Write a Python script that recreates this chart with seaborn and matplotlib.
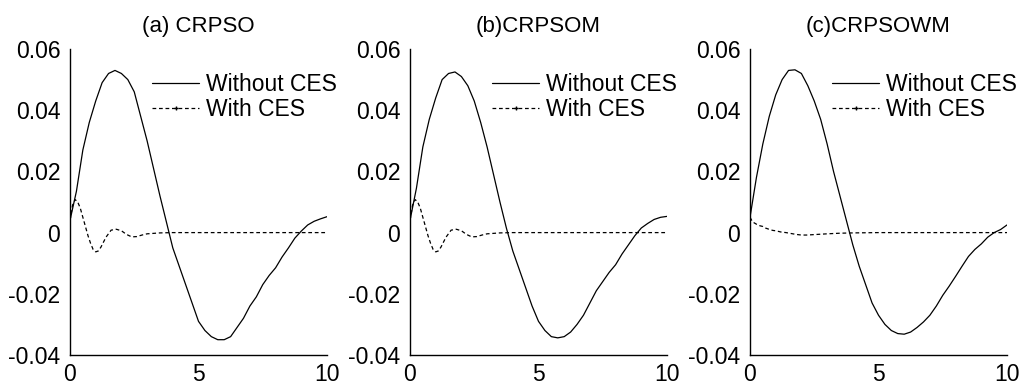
import numpy as np
import pandas as pd
import matplotlib
matplotlib.use("Agg")
import matplotlib.pyplot as plt
from matplotlib.lines import Line2D
import seaborn as sns

# ---------------- data ----------------
titles = ["(a) CRPSO", "(b)CRPSOM", "(c)CRPSOWM"]
series_labels = ["Without CES", "With CES"]

t_main = [0, 0.25, 0.5, 0.75, 1.0, 1.25, 1.5, 1.75, 2.0, 2.25, 2.5, 2.75, 3.0,
          3.25, 3.5, 3.75, 4.0, 4.25, 4.5, 4.75, 5.0, 5.25, 5.5, 5.75, 6.0,
          6.25, 6.5, 6.75, 7.0, 7.25, 7.5, 7.75, 8.0, 8.25, 8.5, 8.75, 9.0,
          9.25, 9.5, 9.75, 10.0]

without_a = [0.004, 0.0135, 0.027, 0.036, 0.043, 0.049, 0.052, 0.053, 0.052,
             0.050, 0.046, 0.038, 0.030, 0.021, 0.012, 0.0035, -0.005, -0.011,
             -0.017, -0.023, -0.029, -0.032, -0.034, -0.035, -0.035, -0.034,
             -0.031, -0.028, -0.024, -0.021, -0.017, -0.014, -0.0115, -0.008,
             -0.005, -0.0018, 0.0005, 0.0025, 0.0037, 0.0045, 0.0052]

without_b = [0.004, 0.0145, 0.028, 0.037, 0.044, 0.050, 0.052, 0.0525, 0.051,
             0.048, 0.043, 0.036, 0.028, 0.019, 0.010, 0.0015, -0.006, -0.012,
             -0.018, -0.024, -0.029, -0.032, -0.034, -0.0344, -0.034, -0.0325,
             -0.030, -0.027, -0.023, -0.019, -0.016, -0.013, -0.0105, -0.007,
             -0.004, -0.001, 0.0015, 0.003, 0.0043, 0.005, 0.0053]

without_c = [0.005, 0.018, 0.029, 0.038, 0.045, 0.050, 0.053, 0.0532, 0.052,
             0.048, 0.043, 0.037, 0.029, 0.020, 0.012, 0.004, -0.004, -0.011,
             -0.017, -0.023, -0.027, -0.030, -0.032, -0.0330, -0.0332, -0.0325,
             -0.031, -0.0292, -0.027, -0.024, -0.0205, -0.0175, -0.0143, -0.011,
             -0.0078, -0.0055, -0.0037, -0.0015, 0.0, 0.001, 0.0025]

t_ces = [0, 0.1, 0.2, 0.3, 0.4, 0.5, 0.6, 0.7, 0.8, 0.9, 1.0, 1.1, 1.2, 1.4,
         1.6, 1.8, 2.0, 2.2, 2.4, 2.6, 2.8, 3.0, 3.5, 4.0, 5.0, 6.0, 7.0, 8.0,
         9.0, 10.0]

with_a = [0.004, 0.009, 0.0108, 0.010, 0.008, 0.005, 0.002, -0.001, -0.0035,
          -0.0055, -0.0063, -0.006, -0.0048, -0.0015, 0.0008, 0.0011, 0.0006,
          -0.0006, -0.0014, -0.0013, -0.0008, -0.0004, -0.0001, 0, 0, 0, 0,
          0, 0, 0]

with_b = [0.004, 0.009, 0.0108, 0.010, 0.008, 0.005, 0.002, -0.001, -0.0035,
          -0.0055, -0.0063, -0.006, -0.0048, -0.0015, 0.0008, 0.0011, 0.0006,
          -0.0006, -0.0014, -0.0013, -0.0008, -0.0004, -0.0001, 0, 0, 0, 0,
          0, 0, 0]

with_c = [0.005, 0.0035, 0.003, 0.0025, 0.0022, 0.002, 0.0015, 0.0012, 0.0009,
          0.0007, 0.0006, 0.0004, 0.0002, 0.0, -0.0003, -0.0006, -0.0008,
          -0.0008, -0.0007, -0.0006, -0.0005, -0.0004, -0.0002, -0.0001, 0,
          0, 0, 0, 0, 0]

x_ticks = [0, 5, 10]
x_tick_labels = ["0", "5", "10"]
y_ticks = [-0.04, -0.02, 0, 0.02, 0.04, 0.06]
y_tick_labels = ["-0.04", "-0.02", "0", "0.02", "0.04", "0.06"]

without_all = [without_a, without_b, without_c]
with_all = [with_a, with_b, with_c]

# ---------------- style ----------------
sns.set_theme(style="white")
plt.rcParams["font.family"] = ["Liberation Sans", "DejaVu Sans"]
plt.rcParams["axes.edgecolor"] = "black"
plt.rcParams["axes.linewidth"] = 1.0
plt.rcParams["text.color"] = "black"

fig = plt.figure(figsize=(10.23, 3.88), dpi=100)
lefts = [70 / 1023, 410 / 1023, 750 / 1023]
width = 257 / 1023
bottom = (388 - 355) / 388
height = 306 / 388

fs_tick = 16.5
fs_text = 16
dash = (0, (3, 2.2))
for i in range(3):
    ax = fig.add_axes([lefts[i], bottom, width, height])
    df_w = pd.DataFrame({"t": t_main, "v": without_all[i]})
    df_c = pd.DataFrame({"t": t_ces, "v": with_all[i]})
    sns.lineplot(data=df_w, x="t", y="v", ax=ax, color="black", lw=0.9,
                 legend=False)
    sns.lineplot(data=df_c, x="t", y="v", ax=ax, color="black", lw=0.9,
                 linestyle=dash, legend=False)
    ax.set_xlim(0, 10)
    ax.set_ylim(-0.04, 0.06)
    ax.set_xticks(x_ticks)
    ax.set_xticklabels(x_tick_labels, fontsize=fs_tick)
    ax.set_yticks(y_ticks)
    ax.set_yticklabels(y_tick_labels, fontsize=fs_tick)
    ax.set_xlabel("")
    ax.set_ylabel("")
    ax.tick_params(direction="in", length=4, width=1, color="black",
                   labelcolor="black")
    ax.tick_params(axis="x", pad=6)
    ax.tick_params(axis="y", pad=7)
    sns.despine(ax=ax)
    ax.set_title(titles[i], fontsize=fs_text, color="black", pad=12)
    handles = [Line2D([], [], color="black", lw=0.9),
               Line2D([], [], color="black", lw=0.9, linestyle=dash,
                      marker="+", markersize=3, markeredgewidth=1.0,
                      markevery=[1])]
    ax.legend(handles, series_labels, loc="upper left",
              bbox_to_anchor=(0.32, 0.92), frameon=False, fontsize=fs_tick,
              handlelength=2.05, handletextpad=0.3, labelspacing=0.05,
              borderaxespad=0, borderpad=0, labelcolor="black")

fig.savefig("out.png", dpi=100)
